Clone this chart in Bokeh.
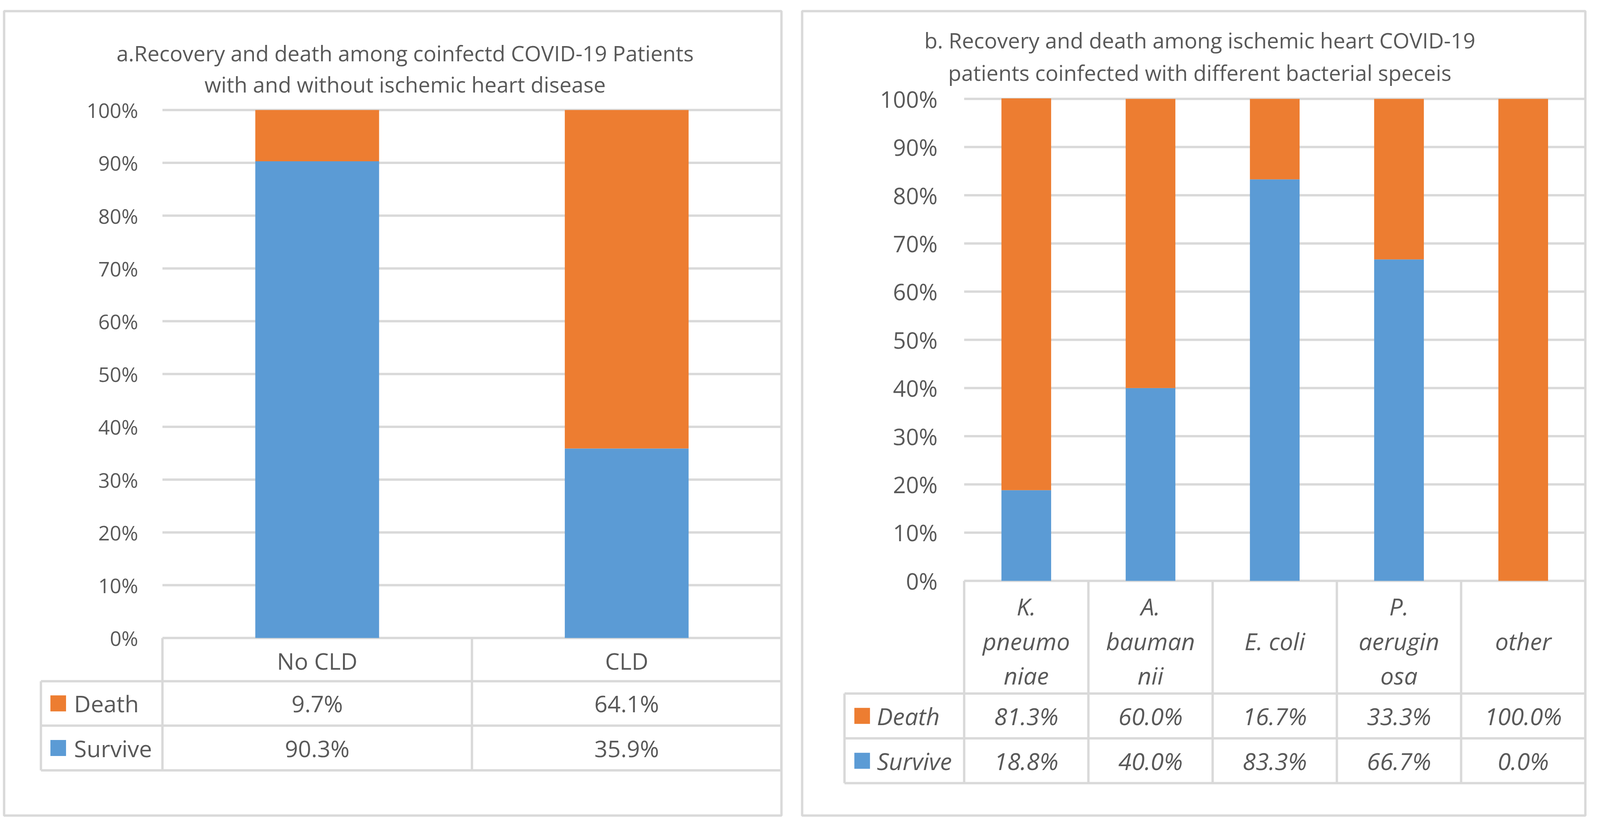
from bokeh.plotting import figure
from bokeh.models import LinearAxis, FixedTicker, NumeralTickFormatter, Range1d, ColumnDataSource
from bokeh.layouts import row
from bokeh.embed import file_html
from bokeh.resources import INLINE
from bokeh.core.properties import value

# ---------------- data ----------------
series = ["Death", "Survive"]
y_ticks = [0.0, 0.1, 0.2, 0.3, 0.4, 0.5, 0.6, 0.7, 0.8, 0.9, 1.0]

a_title = ["a.Recovery and death among coinfectd COVID-19 Patients",
           "with and without ischemic heart disease"]
a_categories = ["No CLD", "CLD"]
a_labels = ["No CLD", "CLD"]
a_death = [0.097, 0.641]
a_survive = [0.903, 0.359]

b_title = ["b. Recovery and death among ischemic heart COVID-19",
           "patients coinfected with different bacterial speceis"]
b_categories = ["K. pneumoniae", "A. baumannii", "E. coli", "P. aeruginosa", "other"]
b_labels = ["K.\npneumo\nniae", "A.\nbauman\nnii", "E. coli", "P.\naerugin\nosa", "other"]
b_death = [0.813, 0.600, 0.167, 0.333, 1.000]
b_survive = [0.188, 0.400, 0.833, 0.667, 0.000]

# ---------------- style ----------------
FONT = value("Open Sans")
TXT = "#595959"
GRID = "#d9d9d9"
BLUE = "#5b9bd5"
ORANGE = "#ed7d31"
LW = 6

# the browser viewport is narrower than the reference: scale horizontal layout
K = 4096 / 4345.0


def sx(px):
    return int(round(px * K))


def fs(px):
    return "%dpx" % round(px * 0.95)


def make_panel(g, cats, labels, death, survive, title_lines, italic):
    n = len(cats)
    ux = (g["pr"] - g["pl"]) / n          # ref px per category
    uy = g["y0"] - g["y1"]               # px per 100 %

    def X(px):
        return -0.5 + (px - g["pl"]) / ux

    def Y(px):
        return (g["y0"] - px) / uy

    cx0, cx1 = g["cx0"], g["cx1"]
    Lp, Rp = sx(g["L"]), sx(g["R"])
    p = figure(width=cx1 - cx0, height=g["cy1"] - g["cy0"],
               x_range=Range1d(X(g["L"]), X(g["R"])),
               y_range=Range1d(Y(g["B"]), Y(g["T"])),
               output_backend="svg", toolbar_location=None, title=None,
               x_axis_location=None, y_axis_location=None,
               min_border_left=Lp - cx0, min_border_right=cx1 - Rp,
               min_border_top=g["T"] - g["cy0"], min_border_bottom=g["cy1"] - g["B"],
               background_fill_color="white", border_fill_color="white")
    p.xgrid.visible = False
    p.ygrid.visible = False
    p.outline_line_color = GRID
    p.outline_line_width = LW

    style = "italic" if italic else "normal"
    xs = list(range(n))
    src = ColumnDataSource(dict(x=xs, cat=cats, death=death, survive=survive))

    # gridlines
    p.segment(x0=-0.5, x1=n - 0.5, y0=y_ticks, y1=y_ticks, line_color=GRID, line_width=LW)

    # stacked bars
    p.vbar_stack(["survive", "death"], x="x", width=0.4, source=src,
                 color=[BLUE, ORANGE], line_color=None)

    # y axis at the plot-area's left edge
    ax = LinearAxis(fixed_location=-0.5, bounds=(0, 1),
                    ticker=FixedTicker(ticks=y_ticks),
                    formatter=NumeralTickFormatter(format="0%"))
    ax.axis_line_color = None
    ax.major_tick_line_color = None
    ax.minor_tick_line_color = None
    ax.major_tick_in = 0
    ax.major_tick_out = 0
    ax.major_label_standoff = sx(g["standoff"])
    ax.major_label_text_font = "Open Sans"
    ax.major_label_text_font_size = fs(g["fs_tick"])
    ax.major_label_text_color = TXT
    p.add_layout(ax, "left")

    # data table
    hb, db, tb = Y(g["hdr"]), Y(g["drow"]), Y(g["srow"])
    leg_l = X(g["leg_left"])
    p.segment(x0=leg_l, x1=n - 0.5, y0=[hb, db, tb], y1=[hb, db, tb],
              line_color=GRID, line_width=LW)
    vx = [k - 0.5 for k in range(n + 1)]
    p.segment(x0=vx, x1=vx, y0=0, y1=tb, line_color=GRID, line_width=LW)
    p.segment(x0=leg_l, x1=leg_l, y0=hb, y1=tb, line_color=GRID, line_width=LW)

    # header (category) labels
    p.text(x=xs, y=Y(g["hdr_mid"]), text=labels, text_align="center", text_baseline="middle",
           text_font=FONT, text_font_size=fs(g["fs_tab"]), text_font_style=style,
           text_color=TXT, text_line_height=1.07)
    # value cells
    p.text(x=xs, y=(hb + db) / 2, text=["%.1f%%" % (v * 100) for v in death],
           text_align="center", text_baseline="middle", text_font=FONT,
           text_font_size=fs(g["fs_tab"]), text_font_style=style, text_color=TXT)
    p.text(x=xs, y=(db + tb) / 2, text=["%.1f%%" % (v * 100) for v in survive],
           text_align="center", text_baseline="middle", text_font=FONT,
           text_font_size=fs(g["fs_tab"]), text_font_style=style, text_color=TXT)
    # legend keys
    rows_y = [(hb + db) / 2, (db + tb) / 2]
    p.rect(x=X(g["sw_x"]), y=rows_y, width=sx(42), height=41, width_units="screen",
           height_units="screen", fill_color=[ORANGE, BLUE], line_color=None)
    p.text(x=X(g["leg_txt"]), y=rows_y, text=series, text_align="left",
           text_baseline="middle", text_font=FONT, text_font_size=fs(g["fs_tab"]),
           text_font_style=style, text_color=TXT)

    # title
    p.text(x=X(g["title_x"]), y=[Y(g["title_b1"]), Y(g["title_b2"])], text=title_lines,
           text_align="center", text_baseline="alphabetic", text_font=FONT,
           text_font_size=fs(g["fs_title"]), text_color=TXT)
    return p


# layout geometry: reference pixels (x converted with sx for canvas sizes)
geom_a = dict(cx0=8, cx1=sx(2158), cy0=8, cy1=2108,
              L=19, R=2130, T=30, B=2096,
              pl=449, pr=2130, y0=1640, y1=284,
              hdr=1751, hdr_mid=1698, drow=1865, srow=1980, leg_left=119,
              sw_x=166, leg_txt=209,
              title_x=1108, title_b1=137, title_b2=218,
              standoff=66, fs_tick=55, fs_tab=62, fs_title=58)
geom_b = dict(cx0=sx(2158), cx1=4088, cy0=8, cy1=2108,
              L=2186, R=4313, T=36, B=2099,
              pl=2626, pr=4313, y0=1497, y1=261,
              hdr=1786, hdr_mid=1651, drow=1901, srow=2016, leg_left=2301,
              sw_x=2349, leg_txt=2389,
              title_x=3266, title_b1=110, title_b2=193,
              standoff=72, fs_tick=61, fs_tab=64, fs_title=58)

pa = make_panel(geom_a, a_categories, a_labels, a_death, a_survive, a_title, False)
pb = make_panel(geom_b, b_categories, b_labels, b_death, b_survive, b_title, True)

layout = row(pa, pb)
open("out.html", "w").write(file_html(layout, INLINE))
